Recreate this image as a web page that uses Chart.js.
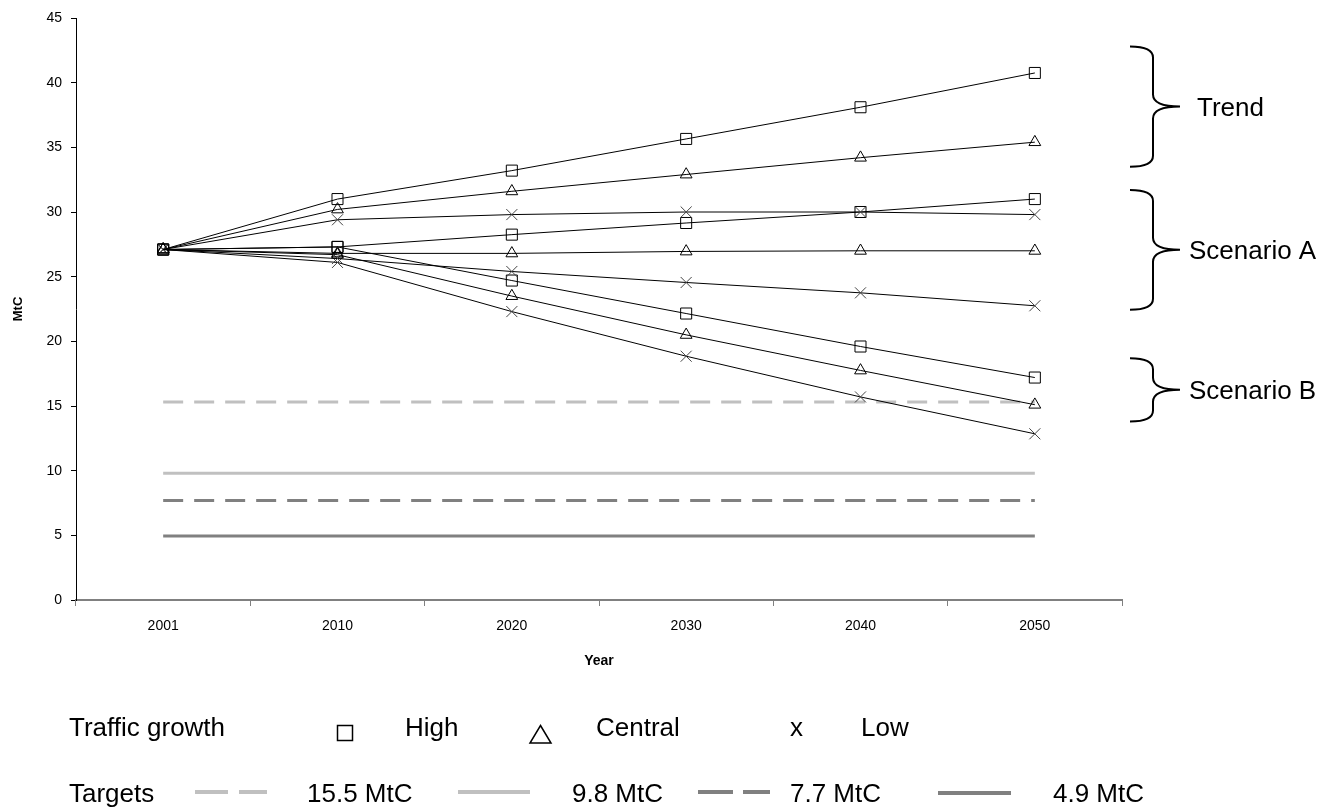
<!DOCTYPE html>
<html>
<head>
<meta charset="utf-8">
<title>Carbon emissions scenarios</title>
<script src="https://cdn.jsdelivr.net/npm/chart.js@4.4.1/dist/chart.umd.min.js"></script>
<style>
    body { margin: 0; background: #fff; }
    #wrap { position: relative; width: 1333px; height: 810px; font-family: "Liberation Sans", Arial, sans-serif; }
    #chart { position: absolute; left: 0; top: 0; }
    #keys { position: absolute; left: 0; top: 0; }
    .lg { position: absolute; font-size: 26px; line-height: 26px; white-space: nowrap; color: #000; }
</style>
</head>
<body>
<div id="wrap">
    <canvas id="chart" width="1333" height="810"></canvas>

    <!-- legend symbols -->
    <svg id="keys" width="1333" height="810">
        <rect x="337.5" y="725.5" width="15" height="15" fill="none" stroke="#000" stroke-width="1.5"/>
        <polygon points="540.5,725.5 551,743 530,743" fill="none" stroke="#000" stroke-width="1.5"/>
        <line x1="195" y1="792" x2="267" y2="792" stroke="#c0c0c0" stroke-width="4" stroke-dasharray="33 11"/>
        <line x1="458" y1="792" x2="530" y2="792" stroke="#c0c0c0" stroke-width="4"/>
        <line x1="698" y1="792" x2="770" y2="792" stroke="#808080" stroke-width="4" stroke-dasharray="35 10"/>
        <line x1="938" y1="793" x2="1011" y2="793" stroke="#808080" stroke-width="4"/>
    </svg>

    <div class="lg" style="left:69px;top:714px">Traffic growth</div>
    <div class="lg" style="left:405px;top:714px">High</div>
    <div class="lg" style="left:596px;top:714px">Central</div>
    <div class="lg" style="left:790px;top:714px">x</div>
    <div class="lg" style="left:861px;top:714px">Low</div>

    <div class="lg" style="left:69px;top:780px">Targets</div>
    <div class="lg" style="left:307px;top:780px">15.5 MtC</div>
    <div class="lg" style="left:572px;top:780px">9.8 MtC</div>
    <div class="lg" style="left:790px;top:780px">7.7 MtC</div>
    <div class="lg" style="left:1053px;top:780px">4.9 MtC</div>
</div>

<script>
const years = ["2001", "2010", "2020", "2030", "2040", "2050"];

// Trend
const trendHigh    = [27.1, 31.0, 33.2, 35.65, 38.1, 40.75];
const trendCentral = [27.1, 30.2, 31.6, 32.9, 34.2, 35.4];
const trendLow     = [27.1, 29.4, 29.8, 30.0, 30.0, 29.8];
// Scenario A
const aHigh    = [27.1, 27.3, 28.25, 29.15, 30.0, 31.0];
const aCentral = [27.1, 26.8, 26.8, 26.95, 27.0, 27.0];
const aLow     = [27.1, 26.4, 25.4, 24.55, 23.75, 22.75];
// Scenario B
const bHigh    = [27.1, 27.3, 24.7, 22.15, 19.6, 17.2];
const bCentral = [27.1, 26.7, 23.5, 20.5, 17.75, 15.1];
const bLow     = [27.1, 26.1, 22.3, 18.85, 15.7, 12.85];

// target levels as drawn
const target155 = [15.3, 15.3, 15.3, 15.3, 15.3, 15.3];
const target98  = [9.8, 9.8, 9.8, 9.8, 9.8, 9.8];
const target77  = [7.7, 7.7, 7.7, 7.7, 7.7, 7.7];
const target49  = [4.95, 4.95, 4.95, 4.95, 4.95, 4.95];

const groupLabels = ["Trend", "Scenario A", "Scenario B"];
const groupRanges = [[42.8, 33.5], [31.7, 22.45], [18.7, 13.8]];

Chart.defaults.font.family = "'Liberation Sans', Arial, sans-serif";
Chart.defaults.color = "#000";

function series(label, data, style) {
    return {
        label: label,
        data: data,
        borderColor: "#000",
        borderWidth: 1,
        pointStyle: style,
        pointRadius: style === "triangle" ? 6.8 : 7.8,
        pointBorderColor: style === "crossRot" ? "#444" : "#000",
        pointBorderWidth: 1,
        pointBackgroundColor: "rgba(0,0,0,0)",
        tension: 0
    };
}

function target(label, data, color, dashed) {
    return {
        label: label,
        data: data,
        borderColor: color,
        borderWidth: 3,
        borderDash: dashed ? [20, 11] : [],
        pointRadius: 0,
        tension: 0
    };
}

// curly braces + group names on the right
const bracePlugin = {
    id: "braces",
    afterDraw(chart) {
        const ctx = chart.ctx;
        const y = chart.scales.y;
        const right = chart.chartArea.right;
        const L = right + 8, S = right + 31, T = right + 58;
        ctx.save();
        ctx.strokeStyle = "#000";
        ctx.lineWidth = 2;
        ctx.font = "26px 'Liberation Sans', Arial, sans-serif";
        ctx.fillStyle = "#000";
        ctx.textBaseline = "alphabetic";
        groupRanges.forEach((range, i) => {
            const top = y.getPixelForValue(range[0]);
            const bottom = y.getPixelForValue(range[1]);
            const mid = (top + bottom) / 2;
            const r = 11, m = 12;
            ctx.beginPath();
            ctx.moveTo(L, top);
            ctx.quadraticCurveTo(S, top, S, top + r);
            ctx.lineTo(S, mid - m);
            ctx.quadraticCurveTo(S, mid, T, mid);
            ctx.quadraticCurveTo(S, mid, S, mid + m);
            ctx.lineTo(S, bottom - r);
            ctx.quadraticCurveTo(S, bottom, L, bottom);
            ctx.stroke();
            const gap = i === 0 ? 17 : 9;
            ctx.fillText(groupLabels[i], T + gap, mid + 9);
        });
        ctx.restore();
    }
};

const ctx = document.getElementById("chart").getContext("2d");
new Chart(ctx, {
    type: "line",
    data: {
        labels: years,
        datasets: [
            series("Trend high", trendHigh, "rect"),
            series("Trend central", trendCentral, "triangle"),
            series("Trend low", trendLow, "crossRot"),
            series("Scenario A high", aHigh, "rect"),
            series("Scenario A central", aCentral, "triangle"),
            series("Scenario A low", aLow, "crossRot"),
            series("Scenario B high", bHigh, "rect"),
            series("Scenario B central", bCentral, "triangle"),
            series("Scenario B low", bLow, "crossRot"),
            target("15.5 MtC", target155, "#c0c0c0", true),
            target("9.8 MtC", target98, "#c0c0c0", false),
            target("7.7 MtC", target77, "#808080", true),
            target("4.9 MtC", target49, "#808080", false)
        ]
    },
    options: {
        responsive: false,
        animation: false,
        devicePixelRatio: 1,
        layout: { padding: { top: 18, right: 211, bottom: 140, left: 0 } },
        plugins: {
            legend: { display: false },
            tooltip: { enabled: false }
        },
        scales: {
            x: {
                offset: true,
                grid: { offset: true, drawOnChartArea: false, tickLength: 6, color: "#808080" },
                border: { color: "#808080", width: 2 },
                ticks: { font: { size: 14 }, color: "#000", padding: 12 },
                title: { display: true, text: "Year", font: { size: 14, weight: "bold" }, color: "#000", padding: 0 },
                afterFit: s => { s.height = 70; }
            },
            y: {
                min: 0,
                max: 45,
                ticks: { stepSize: 5, font: { size: 14 }, color: "#000", padding: 9 },
                grid: { drawOnChartArea: false, tickLength: 5, color: "#000" },
                border: { color: "#000", width: 1 },
                title: { display: true, text: "MtC", font: { size: 13, weight: "bold" }, color: "#000", padding: { top: 11, bottom: 0 } },
                afterFit: s => { s.width = 76; }
            }
        }
    },
    plugins: [bracePlugin]
});
</script>
</body>
</html>
